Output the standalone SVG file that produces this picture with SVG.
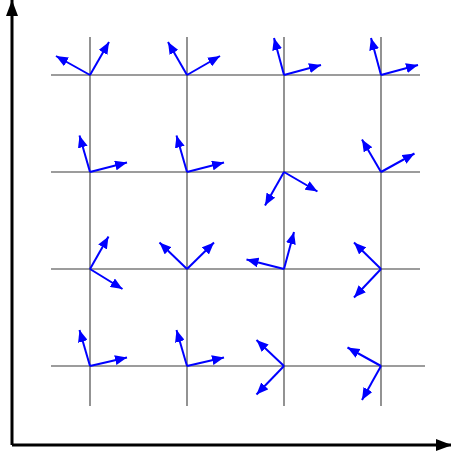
<svg xmlns="http://www.w3.org/2000/svg" width="451" height="456" viewBox="0 0 451 456">
<style>
.grid{stroke:#3a3a3a;stroke-width:1.1;fill:none}
.vec{stroke:#0000ff;stroke-width:2;fill:none;marker-end:url(#ah)}
.axis{stroke:#000;stroke-width:3;fill:none}
</style>
<defs>
<marker id="ah" markerUnits="userSpaceOnUse" markerWidth="12" markerHeight="10" refX="12" refY="5" orient="auto" viewBox="0 0 12 10">
<path d="M0,0 L12,5 L0,10 z" fill="#0000ff"/>
</marker>
<marker id="ax" markerUnits="userSpaceOnUse" markerWidth="16" markerHeight="12" refX="16" refY="6" orient="auto" viewBox="0 0 16 12">
<path d="M0,0 L16,6 L0,12 z" fill="#000"/>
</marker>
</defs>
<g id="grid">
<line class="grid" x1="51" y1="75" x2="420" y2="75"/>
<line class="grid" x1="51" y1="172" x2="420" y2="172"/>
<line class="grid" x1="51" y1="269" x2="420" y2="269"/>
<line class="grid" x1="51" y1="366" x2="425" y2="366"/>
<line class="grid" x1="90" y1="37" x2="90" y2="406"/>
<line class="grid" x1="187" y1="37" x2="187" y2="406"/>
<line class="grid" x1="284" y1="37" x2="284" y2="406"/>
<line class="grid" x1="381" y1="37" x2="381" y2="406"/>
</g>
<g id="axes">
<line class="axis" x1="12" y1="445" x2="12" y2="0" marker-end="url(#ax)"/>
<line class="axis" x1="12" y1="445" x2="452" y2="445" marker-end="url(#ax)"/>
</g>
<g id="connectors">
<g id="n11"><line class="vec" x1="90" y1="75" x2="56" y2="56"/><line class="vec" x1="90" y1="75" x2="109" y2="42"/></g>
<g id="n12"><line class="vec" x1="187" y1="75" x2="168" y2="42"/><line class="vec" x1="187" y1="75" x2="220" y2="56"/></g>
<g id="n13"><line class="vec" x1="284" y1="75" x2="274" y2="38"/><line class="vec" x1="284" y1="75" x2="321" y2="65"/></g>
<g id="n14"><line class="vec" x1="381" y1="75" x2="371" y2="38"/><line class="vec" x1="381" y1="75" x2="418" y2="65"/></g>
<g id="n21"><line class="vec" x1="90" y1="172" x2="79.5" y2="135.5"/><line class="vec" x1="90" y1="172" x2="127" y2="162.5"/></g>
<g id="n22"><line class="vec" x1="187" y1="172" x2="176.5" y2="135.5"/><line class="vec" x1="187" y1="172" x2="224" y2="162.5"/></g>
<g id="n23"><line class="vec" x1="284" y1="172" x2="265" y2="205.5"/><line class="vec" x1="284" y1="172" x2="317.5" y2="191.5"/></g>
<g id="n24"><line class="vec" x1="381" y1="172" x2="362" y2="139.5"/><line class="vec" x1="381" y1="172" x2="414.5" y2="153.5"/></g>
<g id="n31"><line class="vec" x1="90" y1="269" x2="108.5" y2="236.5"/><line class="vec" x1="90" y1="269" x2="122.5" y2="289"/></g>
<g id="n32"><line class="vec" x1="187" y1="269" x2="159.5" y2="242.5"/><line class="vec" x1="187" y1="269" x2="214" y2="242.5"/></g>
<g id="n33"><line class="vec" x1="284" y1="269" x2="246.5" y2="259.5"/><line class="vec" x1="284" y1="269" x2="294" y2="232"/></g>
<g id="n34"><line class="vec" x1="381" y1="269" x2="354" y2="242.5"/><line class="vec" x1="381" y1="269" x2="354" y2="297.5"/></g>
<g id="n41"><line class="vec" x1="90" y1="366" x2="79.5" y2="330"/><line class="vec" x1="90" y1="366" x2="127" y2="357.5"/></g>
<g id="n42"><line class="vec" x1="187" y1="366" x2="176.5" y2="330"/><line class="vec" x1="187" y1="366" x2="224" y2="357.5"/></g>
<g id="n43"><line class="vec" x1="284" y1="366" x2="256.5" y2="340"/><line class="vec" x1="284" y1="366" x2="256.5" y2="394.5"/></g>
<g id="n44"><line class="vec" x1="381" y1="366" x2="347.5" y2="347.5"/><line class="vec" x1="381" y1="366" x2="362" y2="400"/></g>
</g>
</svg>
